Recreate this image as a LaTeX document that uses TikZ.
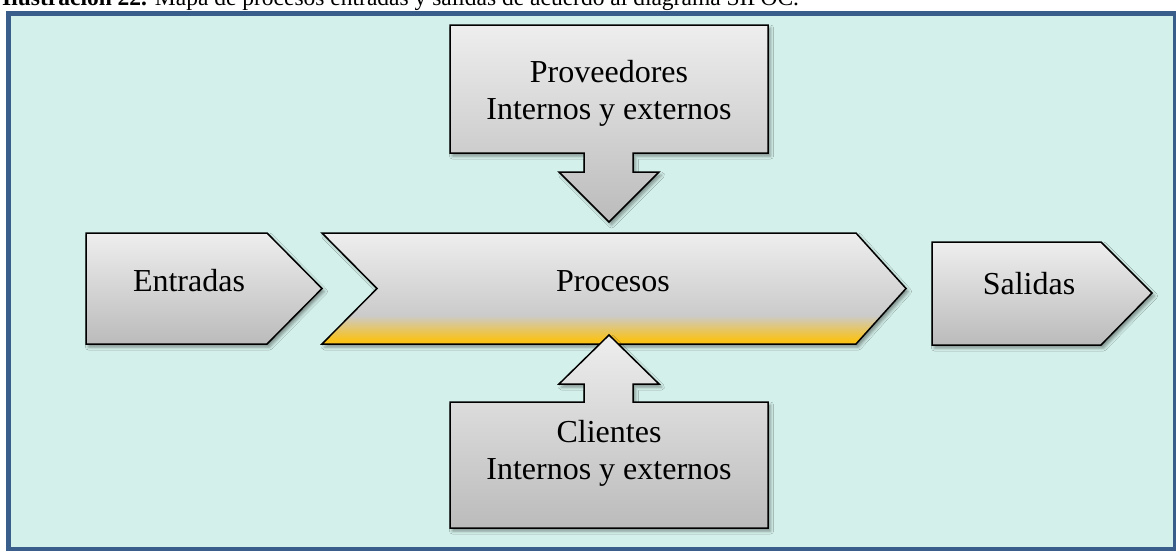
\documentclass[tikz,border=0pt]{standalone}
\usepackage{fontspec}
\setmainfont{Liberation Serif}
\usetikzlibrary{shadows.blur}
\definecolor{frameblue}{HTML}{3A5E8C}
\definecolor{framefill}{HTML}{D4F0EA}
\definecolor{gtop}{HTML}{EEEEEE}
\definecolor{gbot}{HTML}{BBBBBB}
\definecolor{pY}{HTML}{F9C21B}
\definecolor{pG}{HTML}{CBCBCB}
\definecolor{pW}{HTML}{EEEEEE}
\pgfdeclareverticalshading{procshade}{100bp}{color(0bp)=(pY); color(25bp)=(pY); color(27bp)=(pY); color(38bp)=(pG); color(75bp)=(pW); color(100bp)=(pW)}
\tikzset{
  shapebox/.style={draw=black, line width=1.5pt, line join=miter,
    top color=gtop, bottom color=gbot,
    blur shadow={shadow xshift=2.5pt, shadow yshift=-3pt, shadow blur radius=3pt, shadow opacity=40}},
  procbox/.style={draw=black, line width=1.5pt, line join=miter, shading=procshade,
    blur shadow={shadow xshift=2.5pt, shadow yshift=-3pt, shadow blur radius=3pt, shadow opacity=40}},
  lbl/.style={font=\fontsize{32}{37}\selectfont, inner sep=0pt},
  lbl2/.style={lbl, align=center}
}
\begin{document}
\begin{tikzpicture}[x=1pt,y=-1pt]
\useasboundingbox (0,0) rectangle (1176,550);
\clip (0,0) rectangle (1176,550);
% caption (cut off at the top, as in the reference)
\node[anchor=base west, inner sep=0pt, font=\fontsize{23.5}{27}\selectfont] (cap) at (2,5) {\textbf{Ilustración 22.} Mapa de procesos entradas y salidas de acuerdo al diagrama SIPOC.};
% frame
\draw[draw=frameblue, line width=5pt, fill=framefill] (8,13.5) rectangle (1175,549.5);
% Proveedores (box with down arrow)
\path[shapebox] (450,25) -- (768,25) -- (768,153) -- (633,153) -- (633,172) -- (659,172) -- (609,222) -- (559,172) -- (584,172) -- (584,153) -- (450,153) -- cycle;
\node[lbl2] (prov) at (609,93) {Proveedores\\Internos y externos};
% Entradas
\path[shapebox] (86,233) -- (267,233) -- (322,288.5) -- (267,344) -- (86,344) -- cycle;
\node[lbl, anchor=base] (ent) at (189,291) {Entradas};
% Procesos
\path[procbox] (322,233) -- (856,233) -- (906,288.5) -- (856,344) -- (322,344) -- (377,288.5) -- cycle;
\node[lbl, anchor=base] (proc) at (613,291) {Procesos};
% Salidas
\path[shapebox] (932,242) -- (1101,242) -- (1152,293) -- (1101,345) -- (932,345) -- cycle;
\node[lbl, anchor=base] (sal) at (1029,294) {Salidas};
% Clientes (box with up arrow)
\path[shapebox] (609,335) -- (659,384) -- (633,384) -- (633,402) -- (768,402) -- (768,528) -- (450,528) -- (450,402) -- (584,402) -- (584,384) -- (559,384) -- cycle;
\node[lbl2] (cli) at (609,453) {Clientes\\Internos y externos};
\end{tikzpicture}
\end{document}
